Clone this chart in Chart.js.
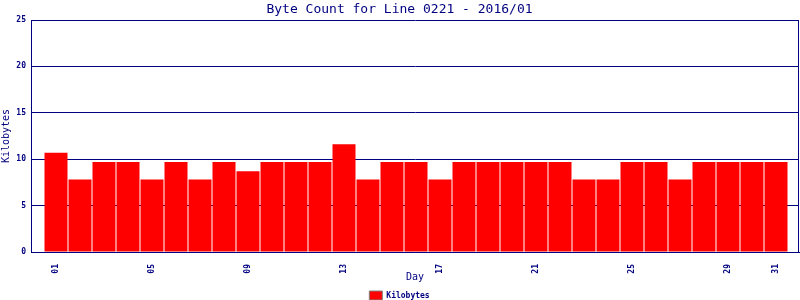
<!DOCTYPE html>
<html>
<head>
<meta charset="utf-8">
<script src="https://cdn.jsdelivr.net/npm/chart.js@4/dist/chart.umd.min.js"></script>
<style>
  html, body { margin: 0; padding: 0; background: #fff; }
  #c { display: block; }
</style>
</head>
<body>
<canvas id="c" width="800" height="300"></canvas>
<script>
// day numbers and byte counts (kilobytes)
let days = [];
for (let d = 1; d <= 31; d++) days.push(d);
let kilobytes = [
  10.7, 7.8, 9.7, 9.7, 7.8, 9.7, 7.8, 9.7, 8.7, 9.7,
  9.7, 9.7, 11.6, 7.8, 9.7, 9.7, 7.8, 9.7, 9.7, 9.7,
  9.7, 9.7, 7.8, 7.8, 9.7, 9.7, 7.8, 9.7, 9.7, 9.7, 9.7
];
let tickDays = [1, 5, 9, 13, 17, 21, 25, 29, 31];
let yTicks = [0, 5, 10, 15, 20, 25];

const NAVY = '#000080';
const MONO = '"DejaVu Sans Mono", monospace';

// right edge of the box round the plot area
let frame = {
  id: 'frame',
  afterDraw(chart) {
    let a = chart.chartArea;
    let ctx = chart.ctx;
    ctx.save();
    ctx.strokeStyle = NAVY;
    ctx.lineWidth = 1;
    ctx.beginPath();
    ctx.moveTo(Math.round(a.right) - 0.5, Math.round(a.top) + 0.5);
    ctx.lineTo(Math.round(a.right) - 0.5, Math.round(a.bottom) + 0.5);
    ctx.stroke();
    ctx.restore();
  }
};

let ctx = document.getElementById('c').getContext('2d');
let chart = new Chart(ctx, {
  type: 'bar',
  data: {
    datasets: [{
      label: 'Kilobytes',
      data: days.map((d, i) => ({ x: d, y: kilobytes[i] })),
      backgroundColor: '#ff0000',
      borderWidth: 0,
      barPercentage: 23 / 24,
      categoryPercentage: 1
    }]
  },
  options: {
    responsive: false,
    devicePixelRatio: 1,
    animation: false,
    layout: { padding: { left: 0, right: 1, top: 0, bottom: 0 } },
    plugins: {
      title: {
        display: true,
        text: 'Byte Count for Line 0221 - 2016/01',
        color: NAVY,
        font: { family: MONO, size: 13, weight: 'normal' },
        padding: { top: 2, bottom: 2.4 }
      },
      legend: {
        position: 'bottom',
        maxHeight: 13,
        labels: {
          color: NAVY,
          font: { family: MONO, size: 8, weight: 'bold' },
          boxWidth: 13,
          boxHeight: 9,
          padding: 4,
          generateLabels(chart) {
            return [{
              text: 'Kilobytes',
              fillStyle: '#ff0000',
              strokeStyle: '#808080',
              lineWidth: 1,
              fontColor: NAVY,
              datasetIndex: 0
            }];
          }
        }
      },
      tooltip: { enabled: false }
    },
    scales: {
      x: {
        type: 'linear',
        offset: false,
        min: 1 - 25 / 24,
        max: 1 - 25 / 24 + 32,
        afterBuildTicks(scale) {
          scale.ticks = tickDays.map(v => ({ value: v }));
        },
        afterFit(scale) { scale.height = 35; },
        grid: { display: false, offset: false },
        border: { color: NAVY, width: 1 },
        ticks: {
          color: NAVY,
          font: { family: MONO, size: 8, weight: 'bold' },
          minRotation: 90,
          maxRotation: 90,
          padding: 4,
          autoSkip: false,
          callback: v => String(v).padStart(2, '0')
        },
        title: {
          display: true,
          text: 'Day',
          color: NAVY,
          font: { family: MONO, size: 10 },
          padding: { top: 0, bottom: 4 }
        }
      },
      y: {
        min: 0,
        max: 25,
        afterBuildTicks(scale) {
          scale.ticks = yTicks.map(v => ({ value: v }));
        },
        afterFit(scale) { scale.width = 31; },
        grid: { color: NAVY, lineWidth: 1, drawTicks: false },
        border: { color: NAVY, width: 1 },
        ticks: {
          color: NAVY,
          font: { family: MONO, size: 8, weight: 'bold' },
          padding: 5
        },
        title: {
          display: true,
          text: 'Kilobytes',
          color: NAVY,
          font: { family: MONO, size: 10 },
          padding: { top: 0, bottom: 0 }
        }
      }
    }
  },
  plugins: [frame]
});
</script>
</body>
</html>
